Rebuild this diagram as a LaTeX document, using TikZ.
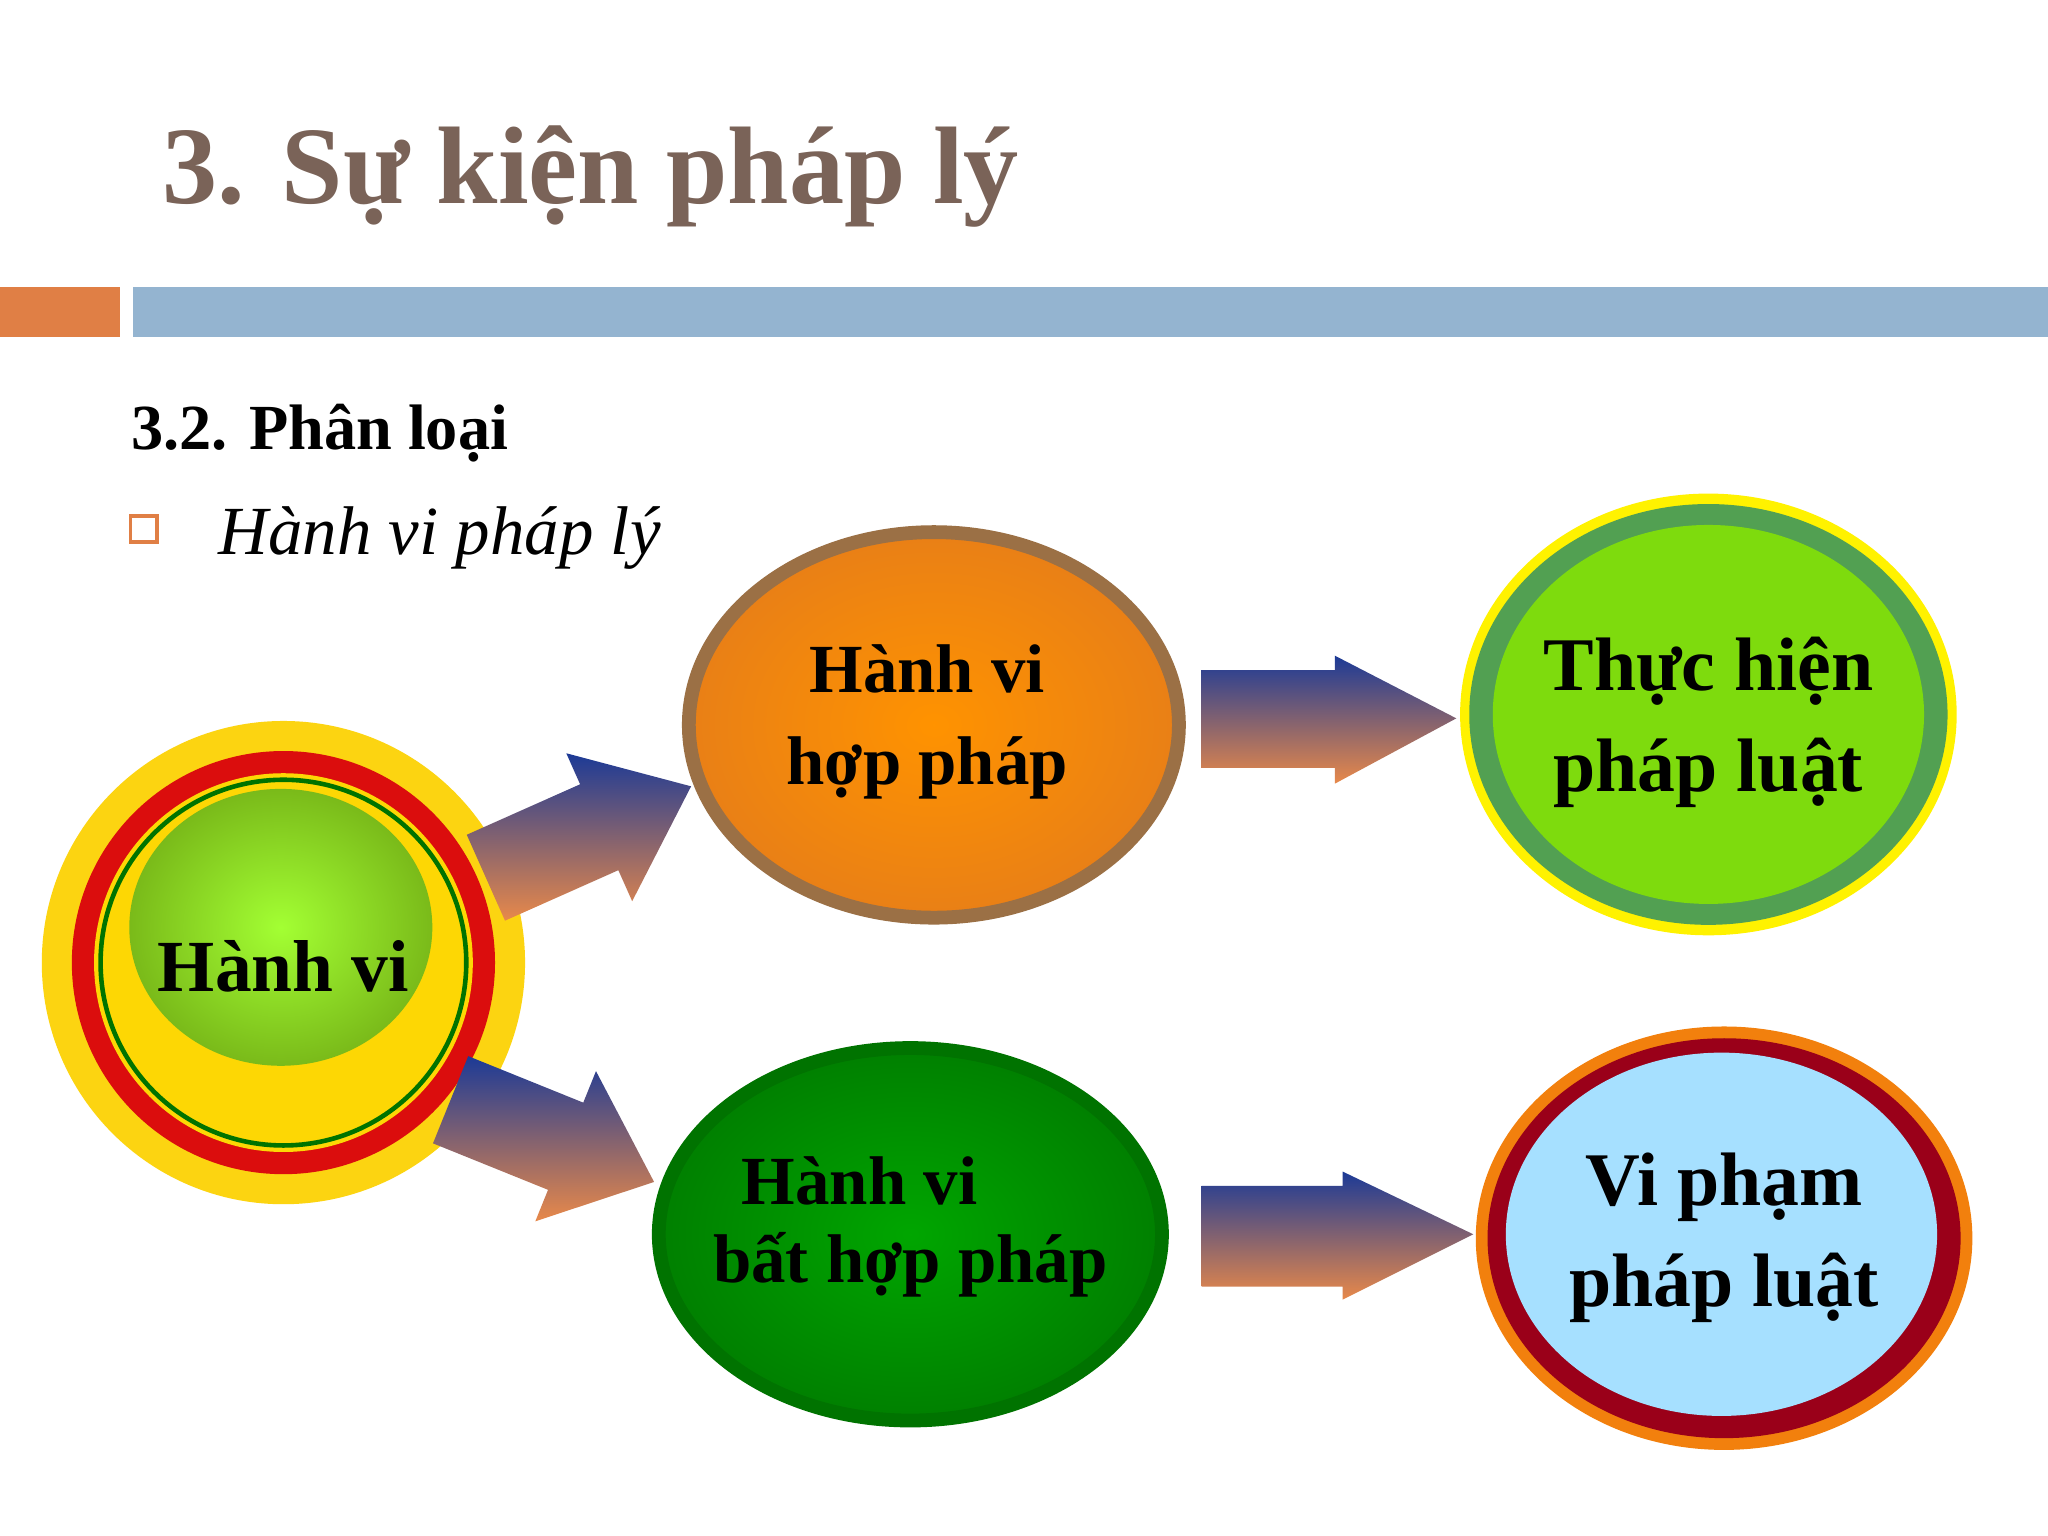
\documentclass[tikz,border=0pt]{standalone}
\usepackage{fontspec}
\setmainfont{Liberation Serif}
\usetikzlibrary{shapes.geometric}
\definecolor{titlec}{HTML}{7A6358}
\definecolor{barO}{HTML}{E07F45}
\definecolor{barB}{HTML}{94B4D0}
\definecolor{arB}{HTML}{1C3A96}
\definecolor{arO}{HTML}{E8894A}
\tikzset{
 lbl/.style={font=\fontsize{15}{18}\selectfont\bfseries,align=center,text=black},
 blk/.style={top color=arB,bottom color=arO,draw=none},
 ell/.style={ellipse,inner sep=0pt}
}
\begin{document}
\begin{tikzpicture}[x=0.01cm,y=-0.01cm]
\useasboundingbox[fill=white] (0,0) rectangle (1568,1176);
% title
\node[anchor=west,text=titlec,font=\fontsize{24}{29}\selectfont\bfseries] (title) at (112,135) {3. Sự kiện pháp lý};
\fill[barO] (0,220) rectangle (92,258);
\fill[barB] (102,220) rectangle (1568,258);
\node[anchor=west,font=\fontsize{14}{17}\selectfont\bfseries] (sub) at (88,332) {3.2. Phân loại};
\draw[barO,line width=0.8pt] (100,395) rectangle (120,415);
\node[anchor=west,font=\fontsize{15}{18}\selectfont\itshape] (hvpl) at (155,412) {Hành vi pháp lý};
% Hanh vi circle
\fill[yellow!70!orange!95] (217,737) circle (185);
\fill[red!85!black!95] (217,737) circle (162);
\fill[yellow!75!orange] (217,737) circle (145);
\draw[green!45!black,line width=1pt] (217,737) circle (140);
\shade[inner color=green!45!yellow!80,outer color=green!40!yellow!70!black!90] (215,710) ellipse (116 and 106);
\node[lbl,font=\fontsize{16}{19}\selectfont\bfseries] (hv) at (217,740) {Hành vi};
% ellipses
\node[ell,minimum width=3.75cm,minimum height=2.95cm,draw=brown!75!black!90,line width=3pt,
  inner color=orange!85!yellow,outer color=orange!65!brown] (hp) at (715,555) {};
\node[lbl] (hpt) at (710,553) {Hành vi\\[2pt]hợp pháp};
\node[ell,minimum width=3.85cm,minimum height=2.85cm,draw=green!45!black,line width=3pt,
  inner color=green!65!black,outer color=green!50!black] (bhp) at (697,945) {};
\node[lbl] (bhpa) at (658,904) {Hành vi};
\node[lbl] (bhpb) at (697,968) {bất hợp pháp};
\node[ell,minimum width=3.8cm,minimum height=3.38cm,fill=yellow,draw=none] (th0) at (1308,547) {};
\node[ell,minimum width=3.66cm,minimum height=3.22cm,fill=green!55!black!70!gray!80] (th1) at (1308,547) {};
\node[ell,minimum width=3.3cm,minimum height=2.9cm,fill=green!45!yellow!85!black!95] (th) at (1308,547) {};
\node[lbl,font=\fontsize{16.5}{20}\selectfont\bfseries] (tht) at (1308,553) {Thực hiện\\[2pt]pháp luật};
\node[ell,minimum width=3.8cm,minimum height=3.24cm,fill=orange!80!brown] (vp0) at (1320,948) {};
\node[ell,minimum width=3.62cm,minimum height=3.06cm,fill=purple!55!red!70!black] (vp1) at (1320,948) {};
\node[ell,minimum width=3.3cm,minimum height=2.78cm,fill=blue!35!cyan!35!white] (vp) at (1318,945) {};
\node[lbl,font=\fontsize{16.5}{20}\selectfont\bfseries] (vpt) at (1320,948) {Vi phạm\\[2pt]pháp luật};
% straight arrows
\path[blk] (920,513) -- (1022,513) -- (1022,502) -- (1115,550) -- (1022,600) -- (1022,588) -- (920,588) -- cycle;
\path[blk] (920,908) -- (1028,908) -- (1028,897) -- (1128,945) -- (1028,995) -- (1028,985) -- (920,985) -- cycle;
% diagonal arrows
\begin{scope}[shift={(372,672)},rotate=24]
\path[blk] (0,-36) -- (95,-36) -- (95,-62) -- (172,0) -- (95,62) -- (95,36) -- (0,36) -- cycle;
\end{scope}
\begin{scope}[shift={(345,842)},rotate=-22]
\path[blk] (0,-36) -- (95,-36) -- (95,-62) -- (168,0) -- (95,62) -- (95,36) -- (0,36) -- cycle;
\end{scope}
\end{tikzpicture}
\end{document}
